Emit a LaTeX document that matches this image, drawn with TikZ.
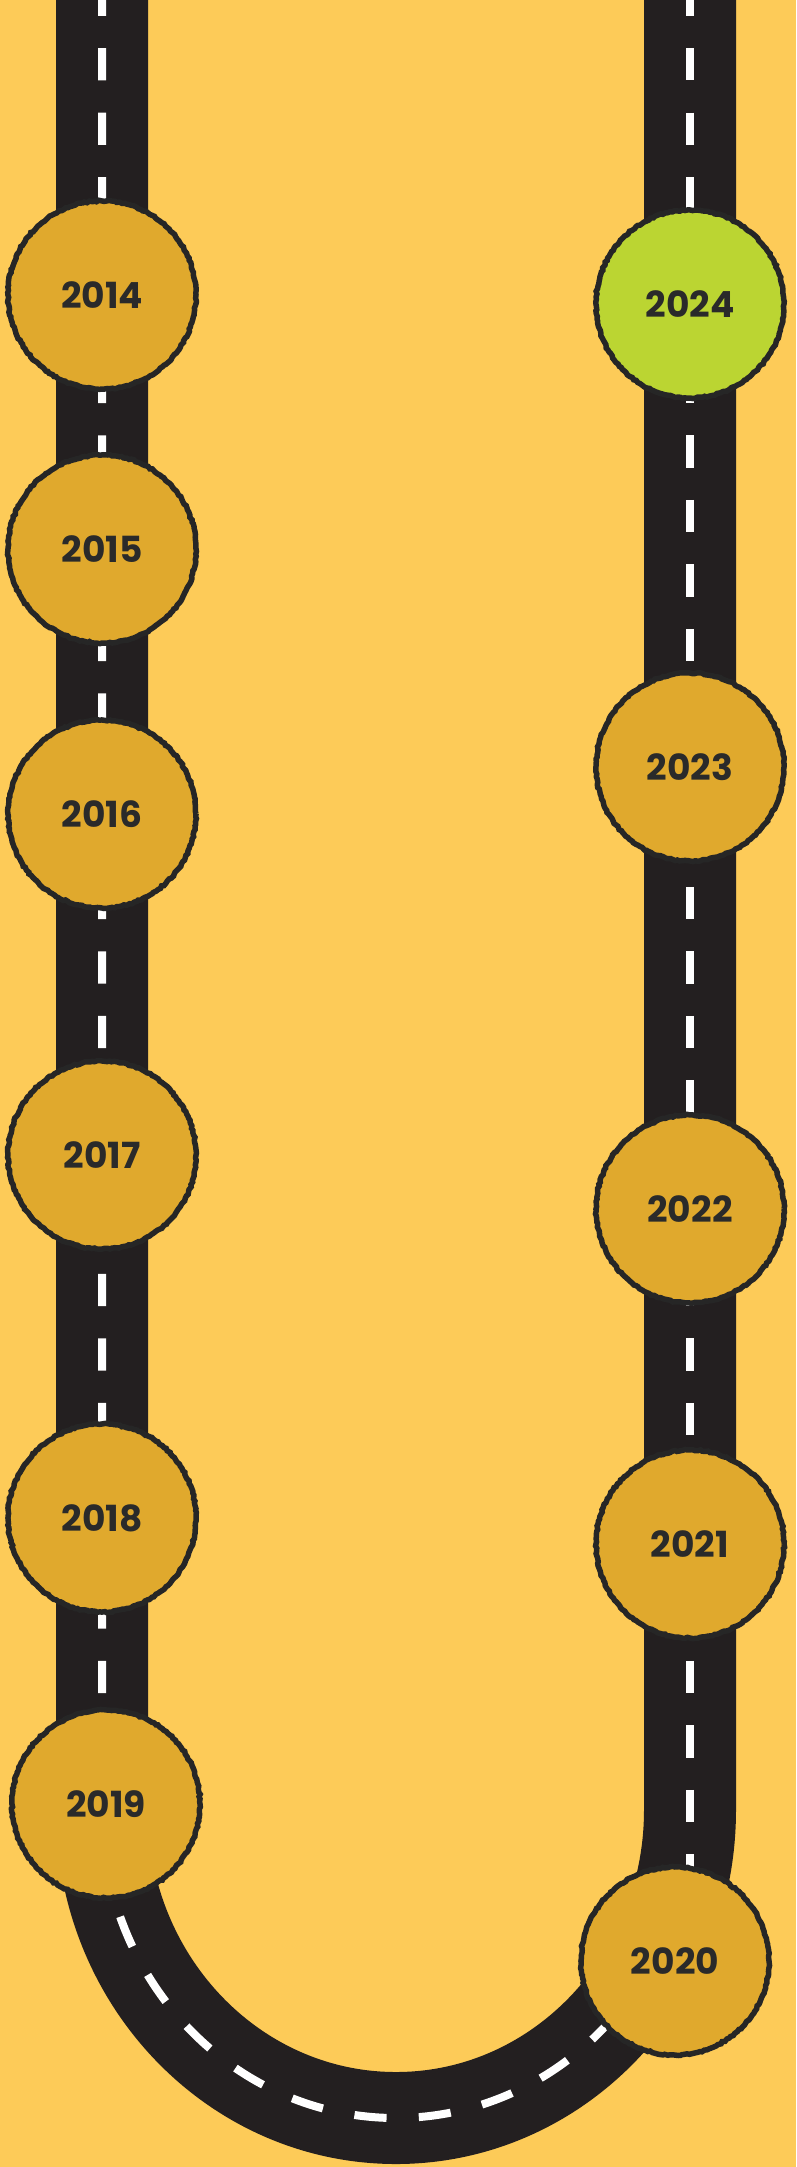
\documentclass[tikz,border=0pt]{standalone}
\usepackage{fontspec}
\setmainfont{Poppins}
\usetikzlibrary{decorations.pathmorphing}
\definecolor{bgyellow}{HTML}{FDCB58}
\definecolor{roadblack}{HTML}{231F20}
\definecolor{yearfill}{HTML}{E0A92D}
\definecolor{yeargreen}{HTML}{BBD532}
\definecolor{rimdark}{HTML}{262626}
\definecolor{txtdark}{HTML}{2A2A2A}
\tikzset{
  road/.style={line width=92pt, color=roadblack, line cap=butt},
  laneline/.style={line width=8pt, color=white, dash pattern=on 32.25pt off 32.25pt, dash phase=16.25pt},
  yearnode/.style={circle, inner sep=0pt, minimum size=188pt, fill=yearfill, draw=rimdark, line width=5.5pt,
    decorate, decoration={random steps, segment length=2.5pt, amplitude=0.7pt},
    text=txtdark, font=\fontsize{36}{40}\selectfont\bfseries},
  nowyear/.style={yearnode, fill=yeargreen}
}
\begin{document}
\pgfmathsetseed{11}
\begin{tikzpicture}[x=1pt,y=-1pt]
\fill[bgyellow] (0,0) rectangle (796,2167);
\useasboundingbox (0,0) rectangle (796,2167);
% road
\draw[road] (102,-5) -- (102,1810) arc[start angle=180, end angle=360, x radius=294pt, y radius=308pt] -- (690,-5);
% lane markings
\draw[laneline] (102,0) -- (102,1810) arc[start angle=180, end angle=340, x radius=294pt, y radius=308pt];
\draw[laneline] (690,0) -- (690,1880);
% milestones
\node[yearnode] (n2014) at (102,295) {2014};
\node[yearnode] (n2015) at (102,549) {2015};
\node[yearnode] (n2016) at (102,814) {2016};
\node[yearnode] (n2017) at (102,1155) {2017};
\node[yearnode] (n2018) at (102,1518) {2018};
\node[yearnode] (n2019) at (106,1804) {2019};
\node[yearnode] (n2020) at (675,1961) {2020};
\node[yearnode] (n2021) at (690,1544) {2021};
\node[yearnode] (n2022) at (690,1209) {2022};
\node[yearnode] (n2023) at (690,767) {2023};
\node[nowyear] (n2024) at (690,304) {2024};
\end{tikzpicture}
\end{document}
